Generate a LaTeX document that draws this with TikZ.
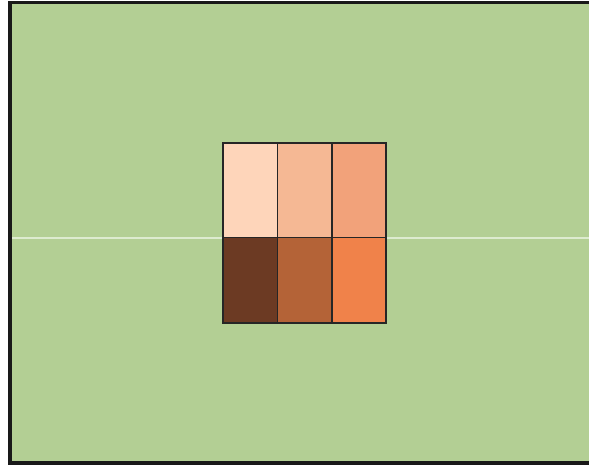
\documentclass[tikz,border=0pt]{standalone}
\begin{document}
\begin{tikzpicture}[x=0.05cm,y=-0.05cm,
  cellline/.style={draw=black!85,line width=0.09cm},
  frameline/.style={draw=black!90,line width=0.2cm}]
\definecolor{bggreen}{HTML}{B3CF94}
\definecolor{hline}{HTML}{DDEBCF}
\definecolor{ca}{HTML}{FED5BA}
\definecolor{cb}{HTML}{F5B894}
\definecolor{cc}{HTML}{F2A27A}
\definecolor{cd}{HTML}{6C3A23}
\definecolor{ce}{HTML}{B46337}
\definecolor{cf}{HTML}{F0824A}
\useasboundingbox (0,0) rectangle (589,469);
\fill[white] (0,0) rectangle (589,469);
\fill[bggreen] (10,2.5) rectangle (589,463);
\draw[hline,line width=0.1cm] (12,238) -- (589,238);
\draw[frameline] (589,2.5) -- (10,2.5) -- (10,463) -- (589,463);
% cells
\fill[ca] (223,143) rectangle (277.5,237.5);
\fill[cb] (277.5,143) rectangle (332,237.5);
\fill[cc] (332,143) rectangle (386,237.5);
\fill[cd] (223,237.5) rectangle (277.5,323);
\fill[ce] (277.5,237.5) rectangle (332,323);
\fill[cf] (332,237.5) rectangle (386,323);
\draw[cellline] (223,143) rectangle (386,323);
\draw[cellline] (277.5,143) -- (277.5,323);
\draw[cellline] (332,143) -- (332,323);
\draw[cellline] (223,237.5) -- (386,237.5);
\end{tikzpicture}
\end{document}
